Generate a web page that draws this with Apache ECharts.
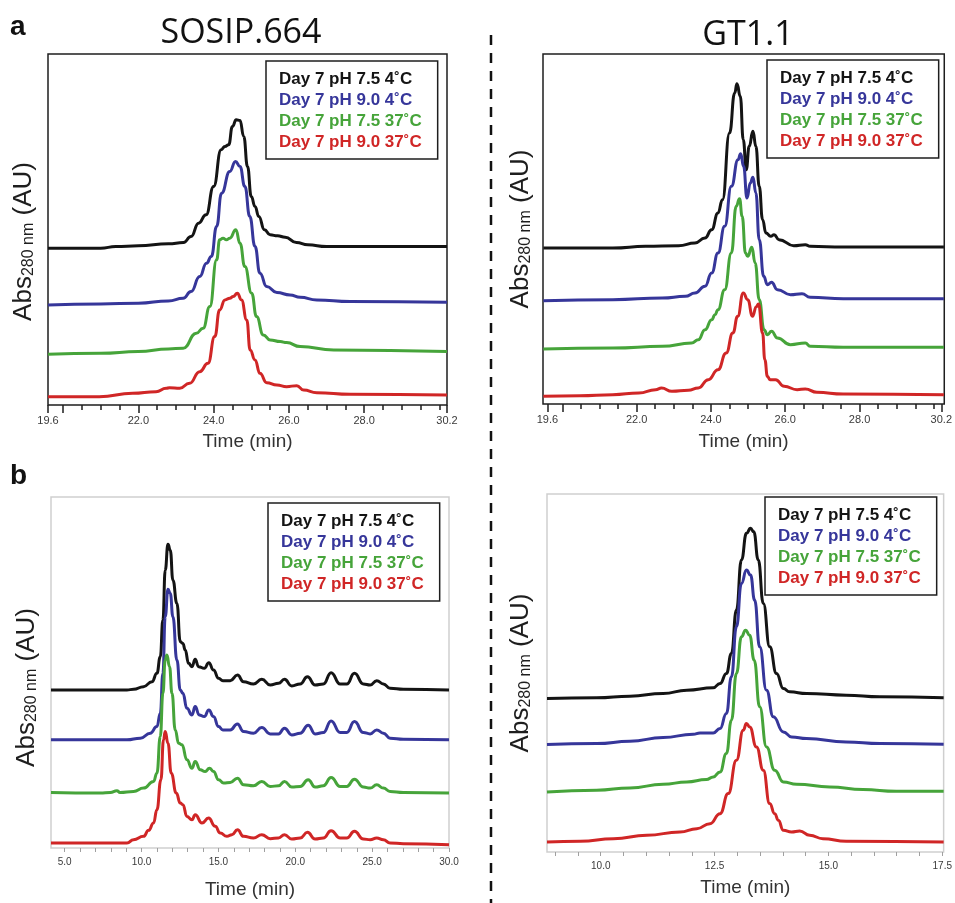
<!DOCTYPE html>
<html><head><meta charset="utf-8">
<script src="https://cdn.jsdelivr.net/npm/echarts@6.0.0/dist/echarts.min.js"></script>
<style>html,body{margin:0;padding:0;background:#fff}#c{width:955px;height:903px}</style>
</head><body><div id="c"></div><script>
// ---------- legend / series names ----------
const seriesNames = ['Day 7 pH 7.5 4˚C', 'Day 7 pH 9.0 4˚C', 'Day 7 pH 7.5 37˚C', 'Day 7 pH 9.0 37˚C'];
const seriesColors = ['#141414', '#36369a', '#46a43a', '#d02626'];
const panelTitles = ['SOSIP.664', 'GT1.1'];
const panelLetters = ['a', 'b'];

// ---------- tick values ----------
const aTickLabels = [19.6, 22.0, 24.0, 26.0, 28.0, 30.2];
const aMajorTicks = [19.6, 20.0, 22.0, 24.0, 26.0, 28.0, 30.2];
const aMinorTicks = [20.5, 21.0, 21.5, 22.5, 23.0, 23.5, 24.5, 25.0, 25.5, 26.5, 27.0, 27.5, 28.5, 29.0, 29.5, 30.0];
const bLeftTickLabels = [5.0, 10.0, 15.0, 20.0, 25.0, 30.0];
const bLeftTicks = [5,6,7,8,9,10,11,12,13,14,15,16,17,18,19,20,21,22,23,24,25,26,27,28,29,30];
const bRightTickLabels = [10.0, 12.5, 15.0, 17.5];
const bRightTicks = [9.0,9.5,10.0,10.5,11.0,11.5,12.0,12.5,13.0,13.5,14.0,14.5,15.0,15.5,16.0,16.5,17.0,17.5];

// ---------- data: [time (min), absorbance (AU, arbitrary)] ----------
// a, SOSIP.664
const sosipA_pH75_4C = [[19.6,470],[20.5,470],[21.0,470],[21.4,475],[22.0,477],[22.8,483],[23.2,487],[23.4,505],[23.6,545],[23.8,570],[24.0,655],[24.2,765],[24.3,775],[24.4,780],[24.5,835],[24.6,855],[24.7,853],[24.8,805],[24.9,715],[25.0,625],[25.1,595],[25.2,565],[25.35,525],[25.5,510],[25.7,507],[25.9,503],[26.2,487],[26.5,480],[27.0,475],[28.0,475],[30.2,475]];
const sosipA_pH90_4C = [[19.6,300],[21.0,303],[22.0,305],[22.8,312],[23.19,320],[23.4,340],[23.63,385],[23.81,425],[23.94,445],[24.08,535],[24.21,635],[24.43,700],[24.58,730],[24.7,715],[24.83,655],[24.96,565],[25.1,475],[25.23,395],[25.41,355],[25.68,337],[26.03,330],[26.3,323],[26.74,315],[27.63,310],[30.2,308]];
const sosipA_pH75_37C = [[19.6,152],[21.0,155],[22.0,160],[22.8,168],[23.19,170],[23.54,215],[23.72,230],[23.9,295],[24.08,435],[24.16,495],[24.25,500],[24.34,495],[24.43,500],[24.59,525],[24.7,485],[24.83,415],[25.01,335],[25.14,265],[25.32,210],[25.5,195],[25.77,190],[25.94,187],[26.3,175],[27.19,165],[30.2,160]];
const sosipA_pH90_37C = [[19.6,25],[20.96,25],[21.85,35],[22.47,40],[22.74,50],[22.83,52],[23.1,50],[23.36,65],[23.63,100],[23.85,125],[24.03,205],[24.16,285],[24.3,315],[24.43,320],[24.52,325],[24.63,335],[24.74,315],[24.88,255],[24.97,165],[25.1,135],[25.23,95],[25.41,67],[25.68,60],[25.94,55],[26.21,58],[26.39,45],[26.74,37],[27.63,32],[30.2,30]];
// a, GT1.1
const gt11A_pH75_4C = [[19.49,468],[20.5,468],[21.36,468],[22.24,473],[23.13,475],[23.57,483],[23.84,498],[24.02,523],[24.19,573],[24.31,613],[24.5,813],[24.64,933],[24.7,961],[24.79,923],[24.87,793],[24.95,703],[25.03,773],[25.13,818],[25.21,773],[25.3,653],[25.39,553],[25.48,513],[25.61,503],[25.7,508],[25.83,493],[26.23,475],[26.54,478],[26.67,473],[27.56,471],[30.27,471]];
const gt11A_pH90_4C = [[19.49,310],[21.36,313],[22.69,318],[23.31,323],[23.57,333],[23.84,353],[24.02,393],[24.19,453],[24.37,533],[24.55,653],[24.73,733],[24.8,751],[24.88,713],[24.97,618],[25.06,663],[25.13,680],[25.21,633],[25.3,493],[25.42,383],[25.52,358],[25.63,365],[25.79,343],[26.14,328],[26.45,331],[26.67,320],[27.56,316],[30.27,316]];
const gt11A_pH75_37C = [[19.49,165],[21.36,168],[22.69,173],[23.48,183],[23.66,193],[23.84,223],[24.02,253],[24.11,268],[24.19,283],[24.37,343],[24.55,453],[24.68,593],[24.77,616],[24.84,563],[24.93,453],[24.99,443],[25.1,470],[25.19,423],[25.3,313],[25.43,223],[25.52,208],[25.63,218],[25.79,198],[26.14,178],[26.54,183],[26.67,173],[27.56,170],[30.27,170]];
const gt11A_pH90_37C = [[19.49,23],[20.47,25],[21.36,28],[22.06,33],[22.51,43],[22.67,48],[22.95,38],[23.39,41],[23.66,48],[23.93,73],[24.19,103],[24.41,153],[24.59,213],[24.72,263],[24.87,333],[24.99,313],[25.12,263],[25.22,292],[25.28,300],[25.39,213],[25.45,133],[25.52,83],[25.59,73],[25.74,73],[25.97,53],[26.32,43],[26.54,45],[26.85,35],[27.56,30],[30.27,28]];
// b, SOSIP.664
const sosipB_pH75_4C = [[4.11,475],[9.05,475],[9.48,477],[10.13,485],[10.68,500],[11.0,525],[11.22,575],[11.39,685],[11.54,835],[11.72,913],[11.87,895],[12.04,805],[12.3,735],[12.52,620],[12.69,615],[12.84,595],[13.06,555],[13.28,545],[13.49,567],[13.71,545],[14.08,540],[14.38,557],[14.68,535],[15.01,510],[15.29,503],[15.77,503],[16.24,520],[16.63,500],[17.28,493],[17.82,507],[18.37,490],[18.91,495],[19.3,507],[19.77,487],[20.32,493],[20.79,515],[21.29,490],[21.83,493],[22.33,527],[22.92,493],[23.35,493],[23.85,525],[24.43,493],[24.87,490],[25.3,503],[25.73,493],[26.17,480],[27.03,477],[30,475]];
const sosipB_pH90_4C = [[4.11,325],[9.05,325],[9.92,330],[10.57,345],[11.0,365],[11.22,405],[11.39,525],[11.54,695],[11.72,778],[11.87,765],[12.04,695],[12.3,565],[12.52,475],[12.69,465],[12.95,420],[13.28,400],[13.49,425],[13.75,400],[14.08,395],[14.38,415],[14.68,395],[15.01,365],[15.29,355],[15.77,355],[16.24,373],[16.63,350],[17.28,345],[17.82,362],[18.37,343],[18.91,343],[19.3,360],[19.77,340],[20.32,345],[20.84,369],[21.29,343],[21.83,347],[22.33,382],[22.92,347],[23.35,347],[23.85,380],[24.43,347],[24.87,343],[25.3,355],[25.73,345],[26.17,330],[27.03,327],[30,325]];
const sosipB_pH75_37C = [[4.11,167],[7.32,165],[7.97,167],[8.4,172],[8.6,167],[9.48,170],[10.13,180],[10.78,200],[11.0,225],[11.22,335],[11.39,465],[11.54,565],[11.65,580],[11.82,545],[11.98,465],[12.19,355],[12.41,315],[12.63,310],[12.95,265],[13.28,240],[13.49,260],[13.82,235],[14.14,230],[14.42,240],[14.68,230],[15.01,205],[15.34,195],[15.77,197],[16.24,210],[16.63,190],[17.28,187],[17.82,200],[18.37,185],[18.91,187],[19.3,200],[19.77,183],[20.32,185],[20.84,205],[21.29,183],[21.83,187],[22.33,212],[22.92,185],[23.35,185],[23.85,207],[24.43,183],[24.87,180],[25.3,190],[25.73,180],[26.17,170],[27.03,167],[30,165]];
const sosipB_pH90_37C = [[4.11,15],[9.05,15],[9.48,25],[10.13,35],[10.46,53],[10.78,75],[11.0,115],[11.26,205],[11.43,325],[11.54,350],[11.72,315],[11.93,225],[12.26,165],[12.52,135],[12.69,130],[12.95,95],[13.28,85],[13.49,100],[13.93,75],[14.36,90],[14.79,65],[15.12,45],[15.55,35],[15.88,40],[16.24,55],[16.63,35],[17.28,30],[17.82,40],[18.37,28],[18.91,30],[19.3,40],[19.77,27],[20.32,30],[20.79,47],[21.29,27],[21.83,30],[22.33,52],[22.92,30],[23.35,30],[23.85,50],[24.43,27],[24.87,25],[25.3,30],[25.73,25],[26.17,15],[27.03,13],[30,10]];
// b, GT1.1
const gt11B_pH75_4C = [[8.82,460],[9.91,462],[10.64,467],[11.37,475],[11.89,485],[12.47,492],[12.62,505],[12.76,535],[12.87,595],[12.98,725],[13.09,875],[13.2,955],[13.29,970],[13.36,960],[13.46,875],[13.57,745],[13.71,615],[13.86,535],[14.01,490],[14.15,480],[14.52,475],[15.39,470],[16.13,465],[17.53,462]];
const gt11B_pH90_4C = [[8.82,322],[9.91,325],[10.64,332],[11.37,343],[12.03,353],[12.18,357],[12.47,357],[12.62,370],[12.76,415],[12.87,525],[12.98,675],[13.09,805],[13.2,845],[13.29,830],[13.38,755],[13.49,615],[13.64,485],[13.79,405],[14.01,360],[14.19,345],[14.52,340],[15.39,330],[16.13,325],[17.53,323]];
const gt11B_pH75_37C = [[8.82,180],[9.91,185],[10.64,192],[11.37,203],[11.89,210],[12.32,217],[12.47,225],[12.62,240],[12.76,295],[12.87,395],[12.98,535],[13.09,645],[13.18,665],[13.27,650],[13.37,575],[13.49,435],[13.64,315],[13.82,245],[14.01,210],[14.3,203],[15.03,195],[15.76,187],[16.49,182],[17.53,182]];
const gt11B_pH90_37C = [[8.82,30],[9.55,32],[10.28,40],[11.01,50],[11.74,60],[12.11,70],[12.4,85],[12.62,115],[12.8,175],[12.98,275],[13.13,365],[13.2,385],[13.27,375],[13.42,315],[13.57,245],[13.71,145],[13.82,115],[13.9,95],[14.01,65],[14.19,60],[14.37,63],[14.59,50],[14.88,40],[15.39,32],[17.53,30]];

// ---------- layout ----------
const FONT = 'Liberation Sans';
const panels = [
  { grid:{left:48, top:54, width:399, height:351}, xmin:19.6, xmax:30.2, ymax:1052,
    labels:aTickLabels, major:aMajorTicks, minor:aMinorTicks, frame:'#1e1e1e', dark:true,
    data:[sosipA_pH75_4C, sosipA_pH90_4C, sosipA_pH75_37C, sosipA_pH90_37C],
    legend:{left:266, top:61}, yGap:11, yShift:24, xGap:27 },
  { grid:{left:543, top:54, width:406, height:350}, xmin:19.48, xmax:30.28, ymax:1050,
    labels:aTickLabels, major:aMajorTicks, minor:aMinorTicks, frame:'#1e1e1e', dark:true,
    data:[gt11A_pH75_4C, gt11A_pH90_4C, gt11A_pH75_37C, gt11A_pH90_37C],
    legend:{left:767, top:60}, yGap:9, yShift:0, xGap:28 },
  { grid:{left:51, top:497, width:398, height:351}, xmin:4.11, xmax:30, ymax:1055,
    labels:bLeftTickLabels, major:bLeftTicks, minor:null, frame:'#cfcfcf', dark:false,
    data:[sosipB_pH75_4C, sosipB_pH90_4C, sosipB_pH75_37C, sosipB_pH90_37C],
    legend:{left:268, top:503}, yGap:11, yShift:30, xGap:32 },
  { grid:{left:547, top:494, width:397, height:358}, xmin:8.82, xmax:17.53, ymax:1073,
    labels:bRightTickLabels, major:bRightTicks, minor:null, frame:'#cfcfcf', dark:false,
    data:[gt11B_pH75_4C, gt11B_pH90_4C, gt11B_pH75_37C, gt11B_pH90_37C],
    legend:{left:765, top:497}, yGap:13, yShift:0, xGap:26 }
];

const grids = [], xAxes = [], yAxes = [], series = [], legends = [];
panels.forEach((p, i) => {
  grids.push(Object.assign({ show:true, borderColor:p.frame, borderWidth:1.5, backgroundColor:'#fff' }, p.grid));
  const mainIdx = xAxes.length;
  xAxes.push({
    type:'value', gridIndex:i, min:p.xmin, max:p.xmax, position:'bottom',
    axisLine:{show:false}, splitLine:{show:false},
    axisTick:{show:true, customValues:p.major, length:p.dark ? 8 : 4,
      lineStyle:{color:p.dark ? '#1e1e1e' : '#a0a0a0', width:p.dark ? 1.5 : 1}},
    axisLabel:{customValues:p.labels, formatter:v => Number(v).toFixed(1), margin:p.dark ? 10 : 9,
      fontSize:p.dark ? 11 : 10, color:'#3a3a3a', fontFamily:FONT},
    name:'Time (min)', nameLocation:'middle', nameGap:p.xGap,
    nameTextStyle:{fontSize:19, color:'#333', fontFamily:FONT}
  });
  if (p.minor) {
    xAxes.push({
      type:'value', gridIndex:i, min:p.xmin, max:p.xmax, position:'bottom', offset:0,
      axisLine:{show:false}, splitLine:{show:false}, axisLabel:{show:false},
      axisTick:{show:true, customValues:p.minor, length:5, lineStyle:{color:'#1e1e1e', width:1.5}}
    });
  }
  yAxes.push({
    type:'value', gridIndex:i, min:0, max:p.ymax,
    axisLine:{show:false}, axisTick:{show:false}, axisLabel:{show:false}, splitLine:{show:false},
    name:'{a|Abs}{s|280 nm}{a| (AU)}', nameLocation:'middle', nameRotate:90, nameGap:p.yGap,
    nameTextStyle:{padding:[0, p.yShift, 0, 0],
      rich:{ a:{fontSize:26, fontFamily:FONT, color:'#1e1e1e', lineHeight:26},
             s:{fontSize:16, fontFamily:FONT, color:'#1e1e1e', lineHeight:10, verticalAlign:'bottom'} }}
  });
  p.data.forEach((d, k) => {
    series.push({
      type:'line', name:seriesNames[k], xAxisIndex:mainIdx, yAxisIndex:i, data:d,
      showSymbol:false, smooth:0.5, smoothMonotone:'x', silent:true,
      lineStyle:{width:3, color:seriesColors[k]}, itemStyle:{color:seriesColors[k]}
    });
  });
  legends.push({
    left:p.legend.left, top:p.legend.top, orient:'vertical', icon:'none',
    itemWidth:0, itemHeight:17, itemGap:4, padding:[10, 16, 8, 8],
    borderColor:'#1e1e1e', borderWidth:1.5, backgroundColor:'#fff', selectedMode:false,
    textStyle:{fontSize:17, fontWeight:'bold', fontFamily:FONT, lineHeight:17},
    data:seriesNames.map((n, k) => ({ name:n, textStyle:{color:seriesColors[k]} }))
  });
});

const chart = echarts.init(document.getElementById('c'), null, { renderer:'canvas' });
chart.setOption({
  animation:false,
  backgroundColor:'#fff',
  grid:grids, xAxis:xAxes, yAxis:yAxes, series:series, legend:legends,
  graphic:[
    { type:'text', x:241, y:33, style:{ text:panelTitles[0], font:'34px "Open Sans"', fill:'#111', textAlign:'center', textVerticalAlign:'middle' } },
    { type:'text', x:748, y:35, style:{ text:panelTitles[1], font:'34px "Open Sans"', fill:'#111', textAlign:'center', textVerticalAlign:'middle' } },
    { type:'text', x:10, y:27, style:{ text:panelLetters[0], font:'bold 28px "Liberation Sans"', fill:'#111', textAlign:'left', textVerticalAlign:'middle' } },
    { type:'text', x:10, y:476, style:{ text:panelLetters[1], font:'bold 28px "Liberation Sans"', fill:'#111', textAlign:'left', textVerticalAlign:'middle' } },
    { type:'line', shape:{ x1:491, y1:35, x2:491, y2:903 }, style:{ stroke:'#111', lineWidth:2.5, lineDash:[10, 8] } }
  ]
});
</script></body></html>
